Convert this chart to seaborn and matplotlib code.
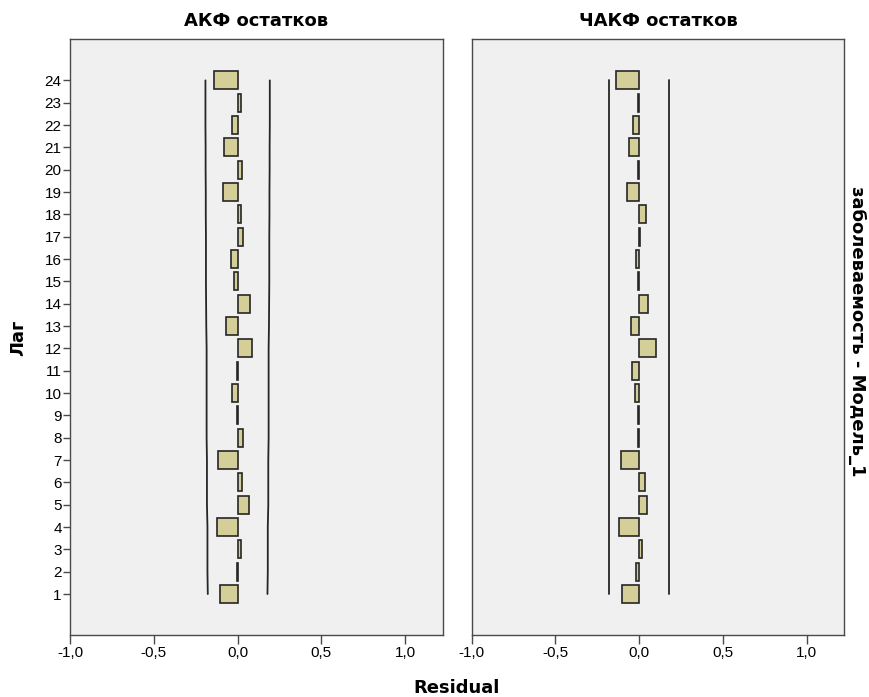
import matplotlib
matplotlib.use("Agg")
import matplotlib.pyplot as plt
from matplotlib.ticker import FuncFormatter
import pandas as pd
import seaborn as sns

# Лаги 1..24
lags = list(range(1, 25))

# АКФ остатков (lag 1 -> 24)
acf_values = [-0.103, -0.005, 0.020, -0.125, 0.066, 0.024, -0.115, 0.034,
              -0.005, -0.033, -0.005, 0.084, -0.069, 0.074, -0.022, -0.042,
              0.034, 0.020, -0.090, 0.024, -0.084, -0.033, 0.020, -0.139]
# Верхняя доверительная граница АКФ (нижняя = минус)
acf_upper = [0.178, 0.180, 0.180, 0.180, 0.183, 0.183, 0.183, 0.185,
             0.185, 0.185, 0.185, 0.185, 0.187, 0.188, 0.189, 0.189,
             0.189, 0.190, 0.190, 0.191, 0.191, 0.192, 0.192, 0.192]

# ЧАКФ остатков (lag 1 -> 24)
pacf_values = [-0.102, -0.018, 0.018, -0.121, 0.044, 0.036, -0.110, -0.005,
               -0.005, -0.028, -0.045, 0.100, -0.052, 0.050, -0.005, -0.018,
               0.005, 0.040, -0.072, -0.005, -0.062, -0.040, -0.005, -0.139]
pacf_upper = [0.179] * 24

panel_titles = ["АКФ остатков", "ЧАКФ остатков"]
x_ticks = [-1.0, -0.5, 0.0, 0.5, 1.0]

BAR = "#d4cf98"
EDGE = "#262626"
SPINE = "#4a4a4a"
BOLD = dict(family=["DejaVu Sans"], fontweight="bold", fontsize=13, color="black")

sns.set_theme(style="white", rc={"axes.facecolor": "#f0f0f0",
                                 "axes.edgecolor": SPINE,
                                 "text.color": "black",
                                 "xtick.color": SPINE, "ytick.color": SPINE,
                                 "xtick.labelcolor": "black", "ytick.labelcolor": "black"})
plt.rcParams["font.family"] = ["Liberation Sans", "DejaVu Sans"]

fig = plt.figure(figsize=(8.7, 6.97), dpi=100)
ax_l = fig.add_axes([0.0805, 0.0894, 0.4284, 0.8542])
ax_r = fig.add_axes([0.5422, 0.0894, 0.4283, 0.8542])

comma = FuncFormatter(lambda v, _: f"{v:.1f}".replace(".", ","))

for ax, vals, upper, title in [(ax_l, acf_values, acf_upper, panel_titles[0]),
                               (ax_r, pacf_values, pacf_upper, panel_titles[1])]:
    df = pd.DataFrame({"lag": lags, "value": vals,
                       "upper": upper, "lower": [-u for u in upper]})
    sns.barplot(data=df, x="value", y="lag", orient="y", native_scale=True,
                width=0.8, color=BAR, edgecolor=EDGE, linewidth=1.2,
                saturation=1, ax=ax)
    sns.lineplot(data=df, x="upper", y="lag", orient="y", sort=False,
                 color="#262626", linewidth=1.3, ax=ax)
    sns.lineplot(data=df, x="lower", y="lag", orient="y", sort=False,
                 color="#262626", linewidth=1.3, ax=ax)
    ax.set_xlim(-1.0, 1.224)
    ax.set_ylim(-0.82, 25.84)
    ax.set_xticks(x_ticks)
    ax.xaxis.set_major_formatter(comma)
    ax.tick_params(axis="x", direction="out", length=6.5, width=1, labelsize=11,
                   bottom=True, pad=1.5)
    ax.set_xlabel("")
    ax.set_ylabel("")
    ax.set_title(title, pad=9.5, **BOLD)
    for sp in ax.spines.values():
        sp.set_linewidth(1.0)

ax_l.set_yticks(lags)
ax_l.set_yticklabels([str(l) for l in lags])
ax_l.tick_params(axis="y", direction="out", length=5, width=1, labelsize=11,
                 left=True, pad=1)
ax_r.set_yticks([])

fig.text(0.021, 0.516, "Лаг", rotation=90, ha="center", va="center", **BOLD)
fig.text(0.985, 0.525, "заболеваемость - Модель_1", rotation=-90,
         ha="center", va="center", **BOLD)
fig.text(0.525, 0.006, "Residual", ha="center", va="baseline", **BOLD)

fig.savefig("out.png", dpi=100, facecolor="white")
